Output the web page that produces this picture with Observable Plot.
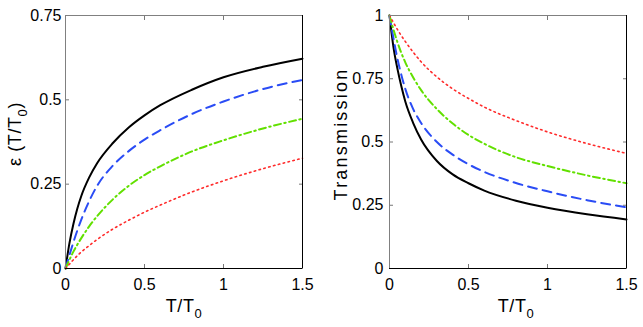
<!DOCTYPE html>
<html><head><meta charset="utf-8">
<script src="https://cdn.jsdelivr.net/npm/d3@7"></script>
<script src="https://cdn.jsdelivr.net/npm/@observablehq/plot@0.6"></script>
<style>
html,body{margin:0;padding:0;background:#fff;}
#chart{display:flex;width:643px;height:327px;}
#chart svg{display:block;}
</style></head><body><div id="chart"></div>
<script>
// T/T0 sample positions (shared by all curves)
const T = [0, 0.025, 0.05, 0.075, 0.1, 0.15, 0.2, 0.3, 0.4, 0.5, 0.6, 0.8, 1.0, 1.25, 1.5];

// Left panel: epsilon(T/T0)
const epsSolid   = [0, 0.075, 0.132, 0.178, 0.215, 0.27, 0.312, 0.372, 0.418, 0.454, 0.484, 0.53, 0.567, 0.598, 0.622];
const epsDashed  = [0, 0.04, 0.078, 0.113, 0.145, 0.2, 0.245, 0.305, 0.348, 0.382, 0.41, 0.458, 0.495, 0.532, 0.559];
const epsDashDot = [0, 0.026, 0.05, 0.071, 0.09, 0.125, 0.155, 0.205, 0.245, 0.277, 0.303, 0.347, 0.38, 0.415, 0.444];
const epsDotted  = [0, 0.013, 0.026, 0.038, 0.049, 0.068, 0.086, 0.117, 0.143, 0.167, 0.188, 0.227, 0.26, 0.296, 0.327];

// Right panel: Transmission
const trSolid   = [1.0, 0.875, 0.79, 0.72, 0.66, 0.575, 0.51, 0.425, 0.372, 0.337, 0.308, 0.268, 0.24, 0.214, 0.194];
const trDashed  = [1.0, 0.91, 0.83, 0.765, 0.71, 0.63, 0.575, 0.5, 0.45, 0.412, 0.382, 0.338, 0.305, 0.27, 0.242];
const trDashDot = [1.0, 0.945, 0.895, 0.852, 0.815, 0.755, 0.705, 0.63, 0.573, 0.528, 0.493, 0.44, 0.405, 0.368, 0.337];
const trDotted  = [1.0, 0.972, 0.945, 0.92, 0.897, 0.855, 0.817, 0.757, 0.71, 0.672, 0.638, 0.585, 0.54, 0.494, 0.455];

const xTicks = [0, 0.5, 1, 1.5];
const epsTicks = [0, 0.25, 0.5, 0.75];
const trTicks = [0, 0.25, 0.5, 0.75, 1];
const xLabel = "T/T0";
const epsLabel = "ε (T/T0)";
const trLabel = "Transmission";

const colors = ["#000000", "#2a4cf5", "#62e000", "#ff2b2b"];
const dashes = [null, "9,6", "7,3.5,1.5,3.5", "1.5,3.5"];
const widths = [2, 2, 2, 1.6];

const fmt = d => String(d);
const blank = () => "";

function panel(series, o) {
  const lines = series.map((arr, i) => {
    const rows = arr.map((v, j) => ({t: T[j], v}));
    const opts = {x: "t", y: "v", stroke: colors[i], strokeWidth: widths[i], curve: "monotone-x"};
    if (dashes[i]) opts.strokeDasharray = dashes[i];
    return Plot.line(rows, opts);
  });
  return Plot.plot({
    width: o.width, height: 327,
    marginLeft: o.marginLeft, marginRight: o.marginRight, marginTop: 15, marginBottom: 59,
    style: {fontFamily: "'Liberation Sans', Arial, sans-serif", fontSize: "16px", background: "#fff", overflow: "visible"},
    x: {domain: [0, 1.5], label: null},
    y: {domain: o.yDomain, label: null},
    marks: [
      ...lines,
      Plot.axisX(xTicks, {anchor: "bottom", tickSize: 0, tickPadding: 10, tickFormat: fmt, label: null, fill: "#000"}),
      Plot.axisY(o.yTicks, {anchor: "left", tickSize: 0, tickPadding: o.yPad, tickFormat: fmt, label: null, fill: "#000"}),
      Plot.axisX(xTicks, {anchor: "bottom", tickSize: 4, dy: -4, tickFormat: blank, label: null, stroke: "#777"}),
      Plot.axisX(xTicks, {anchor: "top", tickSize: 4, dy: 4, tickFormat: blank, label: null, stroke: "#777"}),
      Plot.axisY(o.yTicks, {anchor: "left", tickSize: 4, dx: 4, tickFormat: blank, label: null, stroke: "#777"}),
      Plot.axisY(o.yTicks, {anchor: "right", tickSize: 4, dx: -4, tickFormat: blank, label: null, stroke: "#777"}),
      Plot.ruleX([0], {stroke: "#808080"}),
      Plot.ruleY([o.yDomain[1]], {stroke: "#808080"}),
      Plot.ruleY([0], {stroke: "#000"}),
      Plot.ruleX([1.5], {stroke: "#000"}),
      Plot.text([xLabel], {text: d => d, frameAnchor: "bottom", dy: 43, dx: o.xLabelDx, lineAnchor: "bottom", textAnchor: "middle", fontSize: 18, fill: "#000"}),
      Plot.text([o.yLabel], {text: d => d, frameAnchor: "left", rotate: -90, dx: o.yLabelDx, dy: -8, lineAnchor: "bottom", textAnchor: "middle", fontSize: 18, fill: "#000"})
    ]
  });
}

const left = panel([epsSolid, epsDashed, epsDashDot, epsDotted],
  {width: 320, marginLeft: 65, marginRight: 18, yDomain: [0, 0.75], yTicks: epsTicks, yPad: 4, yLabel: epsLabel, yLabelDx: -45, xLabelDx: 0});
const right = panel([trSolid, trDashed, trDashDot, trDotted],
  {width: 323, marginLeft: 69, marginRight: 17, yDomain: [0, 1], yTicks: trTicks, yPad: 6, yLabel: trLabel, yLabelDx: -43, xLabelDx: 8});

const chart = document.getElementById("chart");
chart.appendChild(left);
chart.appendChild(right);

// subscripts and letter spacing for axis titles
for (const svg of [left, right]) {
  d3.select(svg).selectAll("text").each(function() {
    const el = d3.select(this);
    const s = this.textContent;
    if (s === trLabel) { el.style("letter-spacing", "2.2px"); return; }
    const k = s.indexOf("T/T0");
    if (k < 0) return;
    const before = s.slice(0, k + 3), after = s.slice(k + 4);
    el.text("").style("letter-spacing", "0.6px");
    el.append("tspan").text(before);
    el.append("tspan").attr("dy", 6).attr("font-size", 13).text("0");
    if (after) el.append("tspan").attr("dy", -6).text(after);
  });
}
</script></body></html>
